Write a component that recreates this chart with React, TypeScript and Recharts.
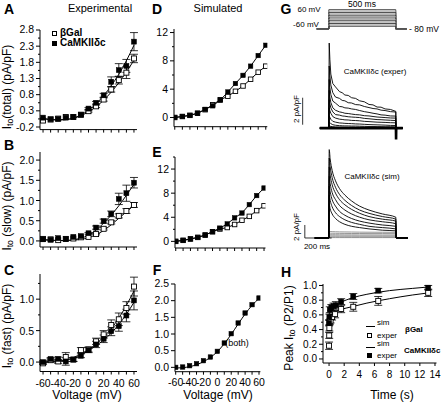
import React from "react";
import {
  ComposedChart,
  LineChart,
  Line,
  Scatter,
  XAxis,
  YAxis,
  ErrorBar,
  ReferenceLine,
} from "recharts";

const FONT = '"Liberation Sans", Arial, sans-serif';

// ---- I-V panels (A-F) ----
const volts = [-60, -50, -40, -30, -20, -10, 0, 10, 20, 30, 40, 50, 60];

const totalGal = [0.0, 0.03, 0.06, 0.11, 0.11, 0.18, 0.29, 0.44, 0.65, 0.96, 1.25, 1.48, 1.92];
const totalGalErr = [0, 0, 0, 0, 0, 0, 0.03, 0.04, 0.05, 0.08, 0.12, 0.18, 0.13];
const totalCam = [0.09, 0.04, 0.05, 0.09, 0.11, 0.18, 0.37, 0.55, 0.78, 1.2, 1.56, 1.69, 2.44];
const totalCamErr = [0, 0, 0, 0, 0, 0, 0.03, 0.04, 0.06, 0.15, 0.2, 0.2, 0.28];
const totalGalFit = [0.06, 0.03, 0.02, 0.03, 0.07, 0.15, 0.27, 0.43, 0.63, 0.88, 1.17, 1.5, 1.87];
const totalCamFit = [0.06, 0.03, 0.02, 0.03, 0.08, 0.17, 0.32, 0.52, 0.77, 1.08, 1.43, 1.85, 2.33];

const slowGal = [0.05, 0.04, 0.02, 0.05, 0.06, 0.09, 0.1, 0.17, 0.3, 0.46, 0.62, 0.74, 0.89];
const slowGalErr = [0, 0, 0, 0, 0, 0, 0, 0.02, 0.03, 0.04, 0.05, 0.06, 0.06];
const slowCam = [0.04, 0.03, 0.07, 0.05, 0.1, 0.12, 0.19, 0.33, 0.49, 0.67, 1.04, 1.18, 1.44];
const slowCamErr = [0, 0, 0, 0, 0, 0, 0.02, 0.04, 0.05, 0.07, 0.14, 0.2, 0.13];
const slowGalFit = [0.03, 0.02, 0.01, 0.01, 0.02, 0.04, 0.08, 0.15, 0.26, 0.4, 0.56, 0.72, 0.88];
const slowCamFit = [0.03, 0.02, 0.01, 0.01, 0.03, 0.07, 0.14, 0.27, 0.44, 0.64, 0.87, 1.13, 1.4];

const fastGal = [-0.02, 0.03, 0.01, 0.08, 0.04, 0.19, 0.2, 0.33, 0.44, 0.59, 0.68, 0.86, 1.2];
const fastGalErr = [0.02, 0.02, 0.03, 0.07, 0.03, 0.04, 0.04, 0.05, 0.06, 0.08, 0.1, 0.1, 0.15];
const fastCam = [0.0, 0.05, 0.05, 0.01, 0.04, 0.1, 0.19, 0.28, 0.37, 0.49, 0.57, 0.74, 0.98];
const fastCamErr = [0.02, 0.02, 0.03, 0.06, 0.03, 0.03, 0.04, 0.05, 0.06, 0.07, 0.08, 0.1, 0.15];
const fastGalFit = [0.0, 0.0, 0.01, 0.03, 0.07, 0.13, 0.2, 0.29, 0.4, 0.53, 0.7, 0.9, 1.13];
const fastCamFit = [0.0, 0.0, 0.01, 0.03, 0.06, 0.11, 0.18, 0.26, 0.35, 0.46, 0.6, 0.76, 0.95];

const simTotalGal = [0, 0.14, 0.3, 0.6, 1.1, 1.8, 2.5, 3.0, 3.7, 4.45, 5.4, 6.4, 7.25];
const simTotalCam = [0, 0.14, 0.3, 0.6, 1.15, 1.65, 2.45, 3.6, 4.8, 5.95, 7.25, 8.75, 10.2];
const simSlowGal = [0, 0.17, 0.4, 0.66, 1.05, 1.6, 2.05, 2.3, 2.8, 3.5, 4.15, 5.1, 5.9];
const simSlowCam = [0, 0.17, 0.4, 0.66, 1.05, 1.6, 2.2, 2.9, 3.9, 4.7, 6.1, 7.6, 8.85];
const simFast = [0.0, 0.01, 0.05, 0.11, 0.2, 0.31, 0.48, 0.73, 1.01, 1.33, 1.63, 1.88, 2.08];
const simFastFit = [-0.02, -0.01, 0.02, 0.08, 0.17, 0.3, 0.47, 0.71, 0.99, 1.3, 1.6, 1.86, 2.07];

// ---- G: current traces ----
const protoTimes = [-90, 0, 0, 500, 500, 582];
const protoSteps = [60, 50, 40, 30, 20, 10, 0, -10, -20, -30, -40, -50, -60];

const experTimes = [-67, 0, 3, 8, 15, 30, 50, 80, 100, 120, 145, 170, 200, 230, 265, 300, 330, 360, 390, 420, 460, 500, 501, 502, 503, 552];
const experTraces = [
  [0, 0, 6.3, 5.1, 4.0, 3.3, 3.05, 2.7, 2.62, 2.45, 2.42, 2.25, 2.2, 2.02, 1.95, 1.75, 1.72, 1.56, 1.55, 1.42, 1.38, 1.24, 0, 0, 0, 0],
  [0, 0, 4.6, 3.9, 3.2, 2.62, 2.3, 2.2, 2.05, 2.02, 1.88, 1.86, 1.74, 1.72, 1.6, 1.52, 1.45, 1.42, 1.33, 1.3, 1.22, 1.19, 0, 0, 0, 0],
  [0, 0, 3.6, 3.0, 2.5, 2.0, 1.85, 1.6, 1.58, 1.5, 1.48, 1.42, 1.38, 1.3, 1.22, 1.16, 1.1, 1.05, 0.98, 0.96, 0.9, 0.89, 0, 0, 0, 0],
  [0, 0, 2.8, 2.3, 1.9, 1.5, 1.32, 1.2, 1.16, 1.1, 1.08, 1.04, 1.0, 0.98, 0.92, 0.9, 0.86, 0.82, 0.8, 0.78, 0.75, 0.74, 0, 0, 0, 0],
  [0, 0, 2.1, 1.8, 1.5, 1.2, 1.0, 0.96, 0.9, 0.88, 0.84, 0.82, 0.8, 0.78, 0.72, 0.69, 0.66, 0.63, 0.62, 0.6, 0.58, 0.56, 0, 0, 0, 0],
  [0, 0, 1.5, 1.3, 1.1, 0.85, 0.74, 0.66, 0.64, 0.61, 0.6, 0.57, 0.56, 0.54, 0.5, 0.48, 0.46, 0.44, 0.43, 0.42, 0.4, 0.39, 0, 0, 0, 0],
  [0, 0, 0.9, 0.8, 0.65, 0.5, 0.44, 0.38, 0.37, 0.35, 0.34, 0.33, 0.31, 0.3, 0.28, 0.26, 0.25, 0.24, 0.23, 0.22, 0.2, 0.19, 0, 0, 0, 0],
  [0, 0, 0.45, 0.4, 0.33, 0.25, 0.21, 0.18, 0.17, 0.16, 0.16, 0.15, 0.15, 0.14, 0.13, 0.12, 0.12, 0.11, 0.11, 0.1, 0.1, 0.09, 0, 0, 0, 0],
  [0, 0, 0.2, 0.15, 0.12, 0.1, 0.08, 0.07, 0.07, 0.06, 0.06, 0.06, 0.05, 0.05, 0.05, 0.05, 0.04, 0.04, 0.04, 0.04, 0.04, 0.04, 0, 0, 0, 0],
];
// thick noisy baseline with the tail spike at the end of the pulse
const experBase = [0, 0, 0, 0, 0, 0, 0, 0, 0, 0, 0, 0, 0, 0, 0, 0, 0, 0, 0, 0, 0, 0, 0, -0.85, 0, 0];

const simTimes = [-105, 0, 3, 10, 25, 50, 80, 120, 170, 230, 300, 400, 500, 503, 590];
const simTraces = [
  [0, 0, 13.6, 12.2, 10.4, 8.8, 7.6, 6.6, 5.7, 4.9, 4.3, 3.7, 3.2, 0, 0],
  [0, 0, 12.3, 11.0, 9.3, 7.8, 6.7, 5.8, 5.0, 4.3, 3.8, 3.3, 2.9, 0, 0],
  [0, 0, 10.9, 9.7, 8.2, 6.9, 5.9, 5.1, 4.4, 3.8, 3.3, 2.9, 2.6, 0, 0],
  [0, 0, 9.5, 8.4, 7.0, 5.9, 5.0, 4.3, 3.7, 3.2, 2.8, 2.5, 2.2, 0, 0],
  [0, 0, 8.0, 7.1, 5.9, 4.9, 4.1, 3.5, 3.0, 2.6, 2.3, 2.0, 1.8, 0, 0],
  [0, 0, 6.6, 5.8, 4.8, 3.9, 3.3, 2.8, 2.4, 2.1, 1.8, 1.6, 1.4, 0, 0],
  [0, 0, 5.2, 4.5, 3.7, 3.0, 2.5, 2.1, 1.8, 1.6, 1.4, 1.2, 1.1, 0, 0],
  [0, 0, 1.0, 1.0, 0.98, 0.96, 0.94, 0.93, 0.92, 0.9, 0.89, 0.88, 0.87, 0, 0],
  [0, 0, 0.75, 0.74, 0.73, 0.72, 0.71, 0.7, 0.69, 0.69, 0.68, 0.68, 0.67, 0, 0],
  [0, 0, 0.52, 0.51, 0.5, 0.5, 0.49, 0.48, 0.48, 0.47, 0.47, 0.46, 0.46, 0, 0],
  [0, 0, 0.33, 0.33, 0.32, 0.32, 0.31, 0.31, 0.31, 0.3, 0.3, 0.3, 0.3, 0, 0],
  [0, 0, 0.17, 0.17, 0.17, 0.17, 0.16, 0.16, 0.16, 0.16, 0.16, 0.16, 0.16, 0, 0],
  [0, 0, 0.06, 0.06, 0.06, 0.06, 0.06, 0.06, 0.06, 0.06, 0.06, 0.06, 0.06, 0, 0],
];
const simGrayFrom = 7;

// ---- H: recovery ----
const recGalT = [0, 0.02, 0.04, 0.08, 0.2, 0.4, 0.8, 1.6, 3.2, 6.5, 13.1];
const recGal = [0.18, 0.32, 0.42, 0.5, 0.52, 0.57, 0.61, 0.68, 0.71, 0.79, 0.9];
const recGalErr = [0.05, 0.04, 0.04, 0.03, 0.03, 0.04, 0.05, 0.05, 0.06, 0.06, 0.05];
const recCamT = [0, 0.04, 0.1, 0.3, 0.6, 0.9, 1.6, 3.2, 6.5, 13.1];
const recCam = [0.49, 0.57, 0.67, 0.7, 0.72, 0.73, 0.78, 0.85, 0.93, 0.97];
const recCamErr = [0.04, 0.04, 0.04, 0.04, 0.04, 0.05, 0.04, 0.04, 0.03, 0.03];
const recSimT = [0, 0.05, 0.1, 0.2, 0.4, 0.8, 1.5, 3, 5, 8, 11, 13.2];
const recSimGal = [0.42, 0.5, 0.54, 0.58, 0.61, 0.64, 0.67, 0.71, 0.76, 0.82, 0.87, 0.9];
const recSimCam = [0.5, 0.6, 0.65, 0.68, 0.71, 0.74, 0.77, 0.83, 0.88, 0.93, 0.96, 0.98];

const pts = (xs: number[], ys: number[], es?: number[]) =>
  xs.map((x, i) => ({ x, y: ys[i], e: es ? es[i] : 0 }));

const near = (list: number[], v: number) => list.some((m) => Math.abs(m - v) < 1e-6);

function YTick(props: any) {
  const { x, y, payload, major, fmt, fs } = props;
  const big = near(major, payload.value);
  return (
    <g>
      <line x1={x} x2={x - (big ? 4 : 2)} y1={y} y2={y} stroke="#000" strokeWidth={1} />
      {big && (
        <text x={x - 6} y={y} textAnchor="end" dominantBaseline="central" fontSize={fs} fontFamily={FONT} fill="#000">
          {fmt(payload.value)}
        </text>
      )}
    </g>
  );
}

function XTick(props: any) {
  const { x, y, payload, major, show, fs } = props;
  const big = near(major, payload.value);
  return (
    <g>
      <line x1={x} x2={x} y1={y} y2={y + 3} stroke="#000" strokeWidth={1} />
      {show && big && (
        <text x={x} y={y + 11} textAnchor="middle" dominantBaseline="central" fontSize={fs} fontFamily={FONT} fill="#000">
          {payload.value}
        </text>
      )}
    </g>
  );
}

const openSq = (s: number) => (p: any) =>
  <rect x={p.cx - s / 2} y={p.cy - s / 2} width={s} height={s} fill="#fff" stroke="#000" strokeWidth={0.9} />;
const fillSq = (s: number) => (p: any) =>
  <rect x={p.cx - s / 2} y={p.cy - s / 2} width={s} height={s} fill="#000" stroke="#000" strokeWidth={0.5} />;

interface PanelProps {
  x0: number; x1: number; y0: number; y1: number;
  xDomain: number[]; yDomain: number[];
  xTicks: number[]; xMajor: number[]; showX: boolean;
  yTicks: number[]; yMajor: number[]; yFmt: (v: number) => string;
  fs?: number;
  children: React.ReactNode;
}

function Panel(p: PanelProps) {
  const yw = 40, xh = 22, mt = 9, mr = 6;
  const fs = p.fs ?? 10.5;
  return (
    <div style={{ position: "absolute", left: p.x0 - yw, top: p.y0 - mt }}>
      <ComposedChart
        width={p.x1 - p.x0 + yw + mr}
        height={p.y1 - p.y0 + mt + xh}
        margin={{ top: mt, right: mr, bottom: 0, left: 0 }}
      >
        <XAxis
          type="number" dataKey="x" domain={p.xDomain} allowDataOverflow ticks={p.xTicks} interval={0}
          tickSize={0} tickMargin={0} height={xh} axisLine={{ stroke: "#000" }} tickLine={false}
          tick={(t: any) => <XTick {...t} major={p.xMajor} show={p.showX} fs={fs} />}
        />
        <YAxis
          type="number" dataKey="y" domain={p.yDomain} allowDataOverflow ticks={p.yTicks} interval={0}
          tickSize={0} tickMargin={0} width={yw} axisLine={{ stroke: "#000" }} tickLine={false}
          tick={(t: any) => <YTick {...t} major={p.yMajor} fmt={p.yFmt} fs={fs} />}
        />
        {p.children}
      </ComposedChart>
    </div>
  );
}

const fitLine = (key: string, data: any[], type: any = "monotone") => (
  <Line key={key} data={data} dataKey="y" type={type} dot={false} stroke="#000" strokeWidth={1} isAnimationActive={false} />
);
const marks = (key: string, data: any[], shape: any, err: boolean) => (
  <Scatter key={key} data={data} dataKey="y" shape={shape} isAnimationActive={false}>
    {err && <ErrorBar dataKey="e" width={4} stroke="#000" strokeWidth={0.8} direction="y" />}
  </Scatter>
);

const vTicks = volts;
const vMajor = [-60, -40, -20, 0, 20, 40, 60];
const f1 = (v: number) => v.toFixed(1);
const f0 = (v: number) => String(v);

function Txt(props: {
  x: number; y: number; size?: number; bold?: boolean; rot?: boolean; left?: boolean; children: React.ReactNode;
}) {
  const { x, y, size = 11, bold, rot, left } = props;
  const tr = left ? "translate(0,-50%)" : "translate(-50%,-50%)" + (rot ? " rotate(-90deg)" : "");
  return (
    <div
      style={{
        position: "absolute", left: x, top: y, transform: tr, whiteSpace: "nowrap",
        fontSize: size, fontFamily: FONT, fontWeight: bold ? 700 : 400, lineHeight: 1, color: "#000",
      }}
    >
      {props.children}
    </div>
  );
}

const Sub = ({ children }: { children: React.ReactNode }) => (
  <span style={{ fontSize: "0.72em", verticalAlign: "-0.2em" }}>{children}</span>
);

function Sq({ x, y, filled }: { x: number; y: number; filled?: boolean }) {
  return (
    <div style={{ position: "absolute", left: x - 2.5, top: y - 2.5, width: 5, height: 5, boxSizing: "border-box",
      border: "1px solid #000", background: filled ? "#000" : "#fff" }} />
  );
}
function Dash({ x, y, w }: { x: number; y: number; w: number }) {
  return <div style={{ position: "absolute", left: x, top: y, width: w, height: 0, borderTop: "1px solid #000" }} />;
}

function Traces(props: {
  top: number; height: number; yDomain: number[]; times: number[]; traces: number[][];
  colorOf: (i: number) => string; children?: React.ReactNode; widthOf?: (i: number) => number; type?: any;
}) {
  const left = 302.2, width = 109.9;
  const rows = props.times.map((t, i) => {
    const r: any = { t };
    props.traces.forEach((tr, k) => (r["s" + k] = tr[i]));
    return r;
  });
  const order = props.traces.map((_, k) => k).reverse();
  return (
    <div style={{ position: "absolute", left, top: props.top }}>
      <LineChart width={width} height={props.height} data={rows} margin={{ top: 0, right: 0, bottom: 0, left: 0 }}>
        <XAxis type="number" dataKey="t" domain={[-200, 620]} allowDataOverflow hide />
        <YAxis type="number" domain={props.yDomain} allowDataOverflow hide />
        {order.map((k) => (
          <Line key={k} dataKey={"s" + k} type={props.type ?? "monotone"} dot={false} stroke={props.colorOf(k)}
            strokeWidth={props.widthOf ? props.widthOf(k) : 0.9} isAnimationActive={false} />
        ))}
        {props.children}
      </LineChart>
    </div>
  );
}

export default function App() {
  return (
    <div style={{ position: "absolute", left: 0, top: 0, width: 444, height: 402, background: "#fff", overflow: "hidden" }}>
      {/* A */}
      <Panel x0={40} x1={137} y0={30} y1={129.6} xDomain={[-64, 64]} yDomain={[-0.28, 2.8]}
        xTicks={vTicks} xMajor={vMajor} showX={false}
        yTicks={[-0.2, 0.05, 0.3, 0.55, 0.8, 1.05, 1.3, 1.55, 1.8, 2.05, 2.3, 2.55, 2.8]}
        yMajor={[-0.2, 0.3, 0.8, 1.3, 1.8, 2.3, 2.8]} yFmt={f1}>
        {fitLine("a1", pts(volts, totalGalFit))}
        {fitLine("a2", pts(volts, totalCamFit))}
        {marks("a3", pts(volts, totalGal, totalGalErr), openSq(5), true)}
        {marks("a4", pts(volts, totalCam, totalCamErr), fillSq(5), true)}
      </Panel>
      {/* B */}
      <Panel x0={40} x1={137} y0={152} y1={247} xDomain={[-64, 64]} yDomain={[-0.15, 2.2]}
        xTicks={vTicks} xMajor={vMajor} showX={false}
        yTicks={[0, 0.25, 0.5, 0.75, 1, 1.25, 1.5, 1.75, 2]} yMajor={[0, 0.5, 1, 1.5, 2]} yFmt={f1}>
        {fitLine("b1", pts(volts, slowGalFit))}
        {fitLine("b2", pts(volts, slowCamFit))}
        {marks("b3", pts(volts, slowGal, slowGalErr), openSq(5), true)}
        {marks("b4", pts(volts, slowCam, slowCamErr), fillSq(5), true)}
      </Panel>
      {/* C */}
      <Panel x0={40} x1={137} y0={274} y1={371.5} xDomain={[-64, 64]} yDomain={[-0.15, 1.4]}
        xTicks={vTicks} xMajor={vMajor} showX={true}
        yTicks={[0, 0.25, 0.5, 0.75, 1, 1.25]} yMajor={[0, 0.5, 1]} yFmt={f1}>
        {fitLine("c1", pts(volts, fastGalFit))}
        {fitLine("c2", pts(volts, fastCamFit))}
        {marks("c3", pts(volts, fastGal, fastGalErr), openSq(5), true)}
        {marks("c4", pts(volts, fastCam, fastCamErr), fillSq(5), true)}
      </Panel>
      {/* D */}
      <Panel x0={174.2} x1={267.5} y0={28.5} y1={126.2} xDomain={[-61, 62]} yDomain={[-1.3, 12.5]}
        xTicks={vTicks} xMajor={vMajor} showX={false}
        yTicks={[0, 2, 4, 6, 8, 10, 12]} yMajor={[0, 4, 8, 12]} yFmt={f0}>
        {fitLine("d1", pts(volts, simTotalGal), "linear")}
        {fitLine("d2", pts(volts, simTotalCam), "linear")}
        {marks("d3", pts(volts, simTotalGal), openSq(4.5), false)}
        {marks("d4", pts(volts, simTotalCam), fillSq(4.5), false)}
      </Panel>
      {/* E */}
      <Panel x0={175.3} x1={265.8} y0={157.3} y1={248.3} xDomain={[-61, 62]} yDomain={[-1.1, 14]}
        xTicks={vTicks} xMajor={vMajor} showX={false}
        yTicks={[0, 2, 4, 6, 8, 10, 12, 14]} yMajor={[0, 4, 8, 12]} yFmt={f0}>
        {fitLine("e1", pts(volts, simSlowGal), "linear")}
        {fitLine("e2", pts(volts, simSlowCam), "linear")}
        {marks("e3", pts(volts, simSlowGal), openSq(4.5), false)}
        {marks("e4", pts(volts, simSlowCam), fillSq(4.5), false)}
      </Panel>
      {/* F */}
      <Panel x0={175} x1={260.4} y0={284.3} y1={372} xDomain={[-61, 62]} yDomain={[-0.13, 2.5]}
        xTicks={vTicks} xMajor={vMajor} showX={true}
        yTicks={[0, 0.5, 1, 1.5, 2, 2.5]} yMajor={[0, 0.5, 1, 1.5, 2, 2.5]} yFmt={f1}>
        {fitLine("f1", pts(volts, simFastFit))}
        {marks("f2", pts(volts, simFast), fillSq(4.5), false)}
      </Panel>
      {/* H */}
      <Panel x0={323} x1={436.5} y0={284} y1={363} xDomain={[-0.8, 14.2]} yDomain={[-0.055, 1.02]}
        xTicks={[0, 2, 4, 6, 8, 10, 12, 14]} xMajor={[0, 2, 4, 6, 8, 10, 12, 14]} showX={true}
        yTicks={[0, 0.1, 0.2, 0.3, 0.4, 0.5, 0.6, 0.7, 0.8, 0.9, 1]} yMajor={[0, 0.2, 0.4, 0.6, 0.8, 1]} yFmt={f1} fs={10}>
        {fitLine("h1", pts(recSimT, recSimGal))}
        {fitLine("h2", pts(recSimT, recSimCam))}
        {marks("h3", pts(recGalT, recGal, recGalErr), openSq(5), true)}
        {marks("h4", pts(recCamT, recCam, recCamErr), fillSq(5), true)}
      </Panel>

      {/* G: voltage protocol */}
      <div style={{ position: "absolute", left: 302.2, top: 9.3 }}>
        <LineChart width={109.9} height={20.7}
          data={protoTimes.map((t, i) => {
            const r: any = { t };
            protoSteps.forEach((v, k) => (r["v" + k] = i === 2 || i === 3 ? v : -80));
            return r;
          })}
          margin={{ top: 0, right: 0, bottom: 0, left: 0 }}>
          <XAxis type="number" dataKey="t" domain={[-200, 620]} allowDataOverflow hide />
          <YAxis type="number" domain={[-85, 65]} allowDataOverflow hide />
          {protoSteps.map((_, k) => (
            <Line key={k} dataKey={"v" + k} type="linear" dot={false} stroke={k % 2 ? "#999" : "#333"}
              strokeWidth={0.9} isAnimationActive={false} />
          ))}
        </LineChart>
      </div>

      {/* G: experimental traces */}
      <Traces top={39.4} height={105.3} yDomain={[-1.2, 6.6]} times={experTimes} type="linear"
        traces={[...experTraces, experBase]} colorOf={() => "#000"}
        widthOf={(k) => (k === experTraces.length ? 2.6 : 0.9)}>
        <ReferenceLine segment={[{ x: -195, y: 0.25 }, { x: -195, y: 2.25 }]} stroke="#000" strokeWidth={0.8} ifOverflow="visible" />
      </Traces>

      {/* G: simulated traces */}
      <Traces top={147.3} height={100.75} yDomain={[-1.5, 14]} times={simTimes} traces={simTraces}
        colorOf={(k) => (k >= simGrayFrom ? "#8a8a8a" : "#000")}>
        <ReferenceLine segment={[{ x: -179, y: 0 }, { x: -179, y: 2 }]} stroke="#000" strokeWidth={0.8} ifOverflow="visible" />
        <ReferenceLine segment={[{ x: -179, y: 0 }, { x: 21, y: 0 }]} stroke="#000" strokeWidth={0.8} ifOverflow="visible" />
      </Traces>

      {/* titles and letters */}
      <Txt x={9} y={9} size={14} bold>A</Txt>
      <Txt x={9} y={145} size={14} bold>B</Txt>
      <Txt x={9} y={270} size={14} bold>C</Txt>
      <Txt x={157} y={9} size={14} bold>D</Txt>
      <Txt x={157} y={152} size={14} bold>E</Txt>
      <Txt x={157} y={270} size={14} bold>F</Txt>
      <Txt x={286} y={9} size={14} bold>G</Txt>
      <Txt x={286} y={272} size={14} bold>H</Txt>
      <Txt x={100} y={8}>Experimental</Txt>
      <Txt x={218} y={8}>Simulated</Txt>

      {/* axis labels */}
      <Txt x={8} y={87} size={12} rot>I<Sub>to</Sub>(total) (pA/pF)</Txt>
      <Txt x={8} y={206} size={12} rot>I<Sub>to</Sub> (slow) (pA/pF)</Txt>
      <Txt x={8} y={326} size={12} rot>I<Sub>to</Sub> (fast) (pA/pF)</Txt>
      <Txt x={290} y={328} size={12} rot>Peak I<Sub>to</Sub> (P2/P1)</Txt>
      <Txt x={87} y={395} size={12}>Voltage (mV)</Txt>
      <Txt x={218} y={395} size={12}>Voltage (mV)</Txt>
      <Txt x={392} y={395} size={12}>Time (s)</Txt>

      {/* A legend */}
      <Sq x={54} y={33} />
      <Txt x={60} y={33} size={10} bold left>βGal</Txt>
      <Sq x={54} y={43} filled />
      <Txt x={60} y={43} size={10} bold left>CaMKIIδc</Txt>

      {/* F note */}
      <Txt x={237} y={343} size={9}>(both)</Txt>

      {/* G labels */}
      <Txt x={309} y={10} size={8}>60 mV</Txt>
      <Txt x={306} y={25} size={8}>-60 mV</Txt>
      <Txt x={362} y={4} size={8.5}>500 ms</Txt>
      <Txt x={424} y={29} size={8.5}>- 80 mV</Txt>
      <Txt x={375} y={72} size={8}>CaMKIIδc (exper)</Txt>
      <Txt x={297} y={109} size={8} rot>2 pA/pF</Txt>
      <Txt x={372} y={177} size={8}>CaMKIIδc (sim)</Txt>
      <Txt x={297} y={227} size={8} rot>2 pA/pF</Txt>
      <Txt x={317} y={247} size={8}>200 ms</Txt>

      {/* H legend */}
      <Dash x={366} y={326} w={9} />
      <Txt x={377} y={323} size={8} left>sim</Txt>
      <Sq x={369} y={335} />
      <Txt x={377} y={336} size={8} left>exper</Txt>
      <Txt x={405} y={330} size={8} bold left>βGal</Txt>
      <Dash x={366} y={347} w={9} />
      <Txt x={377} y={344} size={8} left>sim</Txt>
      <Sq x={369} y={355} filled />
      <Txt x={377} y={356} size={8} left>exper</Txt>
      <Txt x={404} y={351} size={8} bold left>CaMKIIδc</Txt>
    </div>
  );
}
